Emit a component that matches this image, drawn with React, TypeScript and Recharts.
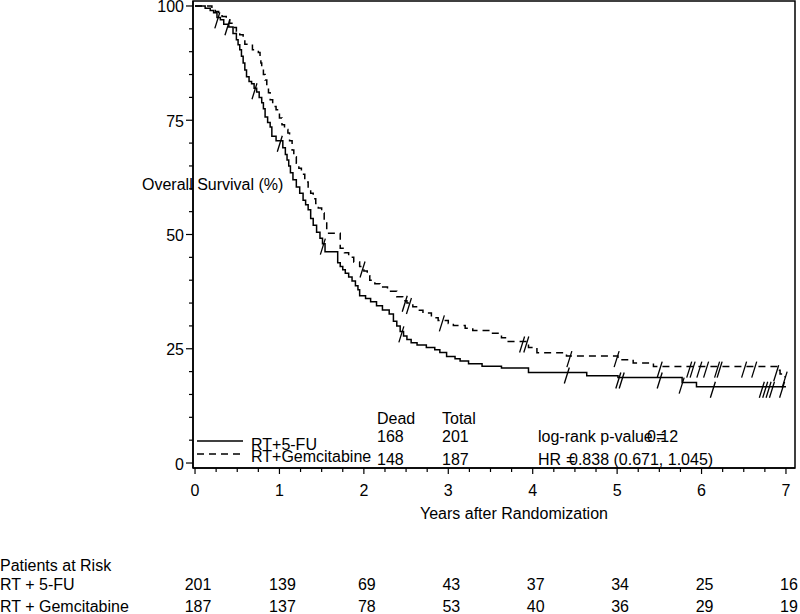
import React from 'react';
import { ComposedChart, Line, XAxis, YAxis, ReferenceArea } from 'recharts';

const FONT = '"Liberation Sans", Arial, Helvetica, sans-serif';

// Kaplan-Meier steps: [years, survival %]
const fuSteps: [number, number][] = [
  [0, 100], [0.12, 99.5], [0.18, 99], [0.22, 98.5], [0.26, 97.5], [0.3, 97], [0.34, 96], [0.4, 95.4],
  [0.45, 94], [0.49, 92.6], [0.51, 91.5], [0.53, 90.4], [0.55, 89], [0.57, 87.5], [0.59, 86], [0.61, 84.5],
  [0.64, 83.5], [0.67, 83], [0.7, 82], [0.73, 81.2], [0.76, 80], [0.79, 78.8], [0.81, 77.5], [0.83, 75.7],
  [0.86, 74.5], [0.89, 73.5], [0.91, 71.5], [0.96, 70.5], [1.04, 69], [1.07, 67.5], [1.09, 66.3], [1.11, 65],
  [1.13, 63.5], [1.16, 62], [1.2, 60.4], [1.24, 59], [1.28, 57.5], [1.31, 56.5], [1.34, 55.4], [1.37, 53.5],
  [1.4, 52], [1.44, 50.5], [1.48, 49.2], [1.51, 48], [1.54, 46.2], [1.69, 43.8], [1.72, 43], [1.75, 42.3],
  [1.78, 41.5], [1.82, 40.7], [1.86, 39.8], [1.9, 38.8], [1.93, 37.9], [1.95, 36.6], [2.02, 36], [2.08, 35.3],
  [2.15, 34.4], [2.22, 33.5], [2.3, 32.6], [2.35, 31], [2.39, 30], [2.43, 28.8], [2.47, 27.8], [2.51, 27],
  [2.56, 26.3], [2.63, 25.8], [2.74, 25.3], [2.84, 24.8], [2.9, 24.2], [2.98, 23.3], [3.08, 22.8], [3.14, 22.3],
  [3.24, 21.7], [3.4, 21.2], [3.63, 20.8], [3.95, 19.8], [4.64, 19.1], [5.01, 18.7], [5.77, 17.6], [5.94, 16.7],
  [7.0, 16.7],
];

const gemSteps: [number, number][] = [
  [0, 100], [0.2, 99.5], [0.24, 98.8], [0.28, 98.2], [0.32, 97.7], [0.37, 97], [0.41, 96.2], [0.45, 95.3],
  [0.49, 94.4], [0.53, 93.7], [0.57, 93], [0.59, 91.6], [0.68, 90.4], [0.75, 89.8], [0.77, 89], [0.78, 87.5],
  [0.79, 86.5], [0.81, 85], [0.83, 83.8], [0.85, 82.5], [0.87, 81], [0.89, 79.5], [0.92, 78], [0.96, 77.3],
  [1.0, 75.5], [1.03, 74], [1.06, 73], [1.1, 72.2], [1.12, 70.5], [1.15, 68.5], [1.17, 67], [1.2, 65.6],
  [1.23, 64.5], [1.26, 63.2], [1.3, 61.5], [1.34, 60.2], [1.37, 59], [1.4, 57.8], [1.43, 56.8], [1.46, 55.8],
  [1.5, 54.7], [1.53, 53], [1.56, 50.3], [1.72, 47], [1.77, 46], [1.82, 45], [1.88, 44], [1.95, 43],
  [2.0, 42], [2.04, 41], [2.07, 40], [2.13, 39.2], [2.19, 38.5], [2.28, 37.6], [2.39, 36.4], [2.46, 35.5],
  [2.51, 35], [2.58, 34.2], [2.64, 33.4], [2.7, 32.8], [2.8, 31.8], [2.88, 31.2], [3.0, 30.5], [3.06, 30.1],
  [3.2, 29.5], [3.29, 29.0], [3.49, 28.4], [3.63, 27.4], [3.71, 26.6], [3.95, 25.3], [4.05, 24.1], [4.4, 23.4],
  [5.01, 22.6], [5.19, 21.9], [5.43, 21.1], [6.89, 20.3], [6.93, 19.5], [6.97, 18.9], [7.0, 18.9],
];

const fuCensorTimes = [0.27, 0.39, 0.71, 1.01, 1.52, 2.45, 4.41, 5.02, 5.06, 5.51, 5.77, 6.14, 6.72, 6.76, 6.8, 6.84, 6.96];
const gemCensorTimes = [1.99, 2.49, 2.54, 2.93, 3.88, 3.93, 4.44, 5.0, 5.51, 5.86, 5.9, 5.98, 6.06, 6.19, 6.22, 6.51, 6.63, 6.89, 6.99];

const xMajorTicks = [0, 1, 2, 3, 4, 5, 6, 7];
const yMajorTicks = [0, 25, 50, 75, 100];
const riskFU = [201, 139, 69, 43, 37, 34, 25, 16];
const riskGem = [187, 137, 78, 53, 40, 36, 29, 19];

const seriesNames = ['RT+5-FU', 'RT+Gemcitabine'];
const riskNames = ['RT + 5-FU', 'RT + Gemcitabine'];
const deadCounts = [168, 148];
const totalCounts = [201, 187];
const pValueText = '0.12';
const hrText = '0.838 (0.671, 1.045)';

const X_MIN = -0.024;
const X_MAX = 7.107;
const Y_MIN = -1.09;
const Y_MAX = 101.09;

const xAllTicks = Array.from({ length: 29 }, (_, i) => i * 0.25);
const yAllTicks = Array.from({ length: 21 }, (_, i) => i * 5);

const toPts = (steps: [number, number][]) => steps.map(([t, s]) => ({ t, s }));
const survAt = (steps: [number, number][], t: number) => {
  let s = steps[0][1];
  for (const [tt, ss] of steps) if (tt <= t) s = ss;
  return s;
};
const fuData = toPts(fuSteps);
const gemData = toPts(gemSteps);
const fuCensor = fuCensorTimes.map((t) => ({ t, s: survAt(fuSteps, t) }));
const gemCensor = gemCensorTimes.map((t) => ({ t, s: survAt(gemSteps, t) }));

const XTick = (props: any) => {
  const { x, y, payload } = props;
  const v = payload.value;
  const major = Math.abs(v - Math.round(v)) < 1e-6;
  const idx = Math.round(v);
  return (
    <g>
      <line x1={x} y1={y} x2={x} y2={y + (major ? 6 : 4)} stroke="#000" strokeWidth={1.2} />
      {major && (
        <>
          <text x={x} y={y + 28} textAnchor="middle" fontSize={16} fontFamily={FONT} fill="#000">
            {xMajorTicks[idx]}
          </text>
          <text x={x + 3} y={y + 122} textAnchor="middle" fontSize={16} fontFamily={FONT} fill="#000">
            {riskFU[idx]}
          </text>
          <text x={x + 3} y={y + 144} textAnchor="middle" fontSize={16} fontFamily={FONT} fill="#000">
            {riskGem[idx]}
          </text>
        </>
      )}
    </g>
  );
};

const YTick = (props: any) => {
  const { x, y, payload } = props;
  const v = payload.value;
  const major = yMajorTicks.includes(v);
  return (
    <g>
      <line x1={x - (major ? 7 : 4)} y1={y} x2={x} y2={y} stroke="#000" strokeWidth={1.2} />
      {major && (
        <text x={x - 9} y={y + 6.5} textAnchor="end" fontSize={16} fontFamily={FONT} fill="#000">
          {v}
        </text>
      )}
    </g>
  );
};

const slash = (props: any) => {
  const { cx, cy, index } = props;
  if (cx == null || cy == null) return <g key={`n${index}`} />;
  return <line key={`c${index}`} x1={cx - 3} y1={cy + 11} x2={cx + 2} y2={cy - 5} stroke="#000" strokeWidth={1.3} />;
};

const T = (p: { x: number; y: number; children: React.ReactNode; anchor?: string }) => (
  <text x={p.x} y={p.y} fontSize={16} fontFamily={FONT} fill="#000" textAnchor={(p.anchor as any) || 'start'}>
    {p.children}
  </text>
);

export default function App() {
  return (
    <div style={{ position: 'absolute', left: 0, top: 0, width: 800, height: 614, background: '#fff' }}>
      <ComposedChart width={800} height={614} margin={{ top: 1, right: 5, bottom: 106, left: 153 }}>
        <XAxis
          type="number"
          dataKey="t"
          domain={[X_MIN, X_MAX]}
          allowDataOverflow
          ticks={xAllTicks}
          interval={0}
          tickSize={0}
          tickMargin={0}
          tickLine={false}
          height={40}
          axisLine={{ stroke: '#000', strokeWidth: 1.5 }}
          tick={<XTick />}
        />
        <YAxis
          type="number"
          domain={[Y_MIN, Y_MAX]}
          allowDataOverflow
          ticks={yAllTicks}
          interval={0}
          tickSize={0}
          tickMargin={0}
          tickLine={false}
          width={40}
          axisLine={{ stroke: '#000', strokeWidth: 1.5 }}
          tick={<YTick />}
        />
        <ReferenceArea x1={X_MIN} x2={X_MAX} y1={Y_MIN} y2={Y_MAX} fill="none" stroke="#000" strokeWidth={1.5} ifOverflow="visible" />
        <Line data={fuData} dataKey="s" type="stepAfter" stroke="#000" strokeWidth={1.5} dot={false} activeDot={false} isAnimationActive={false} />
        <Line data={gemData} dataKey="s" type="stepAfter" stroke="#000" strokeWidth={1.5} strokeDasharray="7 5" dot={false} activeDot={false} isAnimationActive={false} />
        <Line data={fuCensor} dataKey="s" stroke="none" dot={slash} activeDot={false} isAnimationActive={false} />
        <Line data={gemCensor} dataKey="s" stroke="none" dot={slash} activeDot={false} isAnimationActive={false} />
      </ComposedChart>
      <svg width={800} height={614} style={{ position: 'absolute', left: 0, top: 0, pointerEvents: 'none' }}>
        <T x={142} y={190}>Overall Survival (%)</T>
        <T x={420} y={519}>Years after Randomization</T>
        <line x1={197} y1={441} x2={243} y2={441} stroke="#000" strokeWidth={1.5} />
        <line x1={197} y1={454} x2={243} y2={454} stroke="#000" strokeWidth={1.5} strokeDasharray="7 5" />
        <T x={251} y={450}>{seriesNames[0]}</T>
        <T x={251} y={462}>{seriesNames[1]}</T>
        <T x={377} y={424}>Dead</T>
        <T x={442} y={424}>Total</T>
        <T x={377} y={442}>{deadCounts[0]}</T>
        <T x={442} y={442}>{totalCounts[0]}</T>
        <T x={377} y={465}>{deadCounts[1]}</T>
        <T x={442} y={465}>{totalCounts[1]}</T>
        <T x={538} y={442}>log-rank p-value</T>
        <T x={647} y={442}>{pValueText}</T>
        <T x={656} y={442}>=</T>
        <T x={538} y={465}>HR</T>
        <T x={566} y={465}>=</T>
        <T x={569} y={465}>{hrText}</T>
        <T x={0} y={571}>Patients at Risk</T>
        <T x={0} y={590}>{riskNames[0]}</T>
        <T x={0} y={612}>{riskNames[1]}</T>
      </svg>
    </div>
  );
}
